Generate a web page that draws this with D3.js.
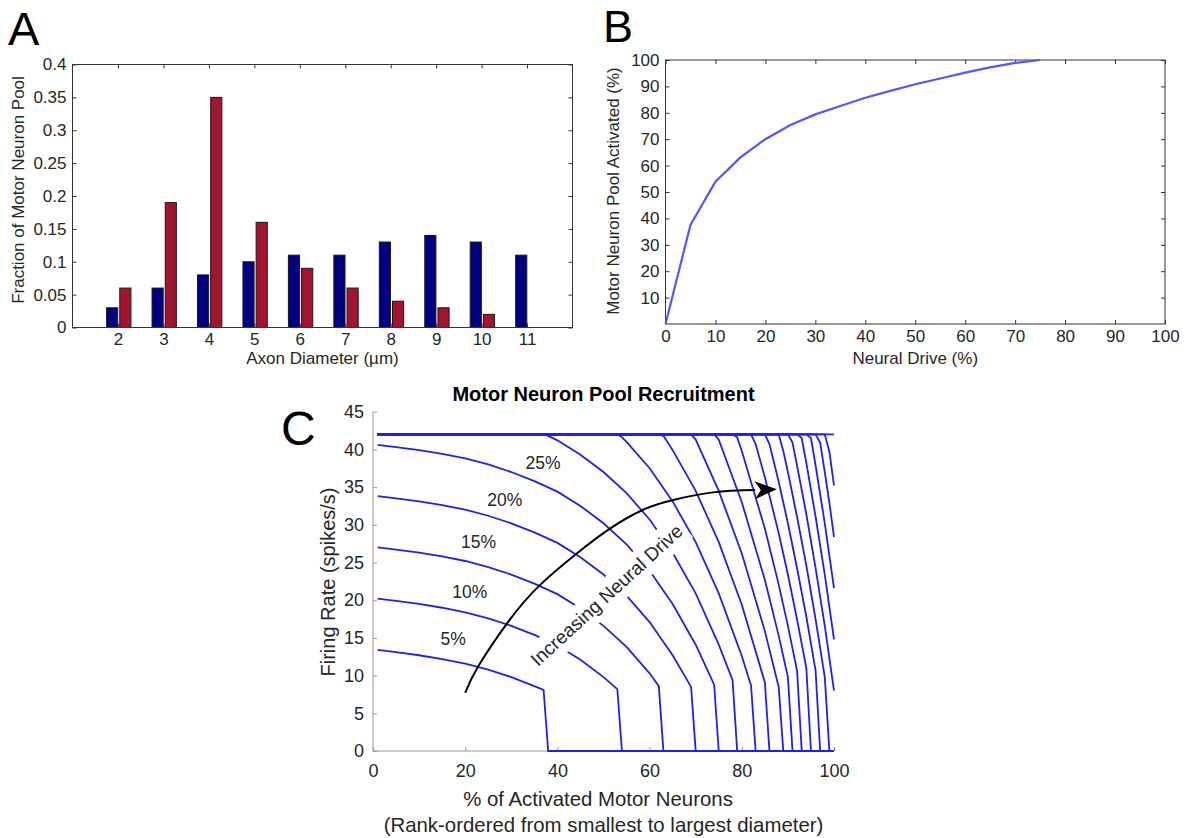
<!DOCTYPE html>
<html>
<head>
<meta charset="utf-8">
<script src="https://cdn.jsdelivr.net/npm/d3@7"></script>
<style>
  body { margin: 0; background: #fff; }
  svg text { font-family: "Liberation Sans", Arial, sans-serif; }
</style>
</head>
<body>
<script>
// ---- panel A data: axon diameter histogram
var diameters = [2, 3, 4, 5, 6, 7, 8, 9, 10, 11];
var fracBlue = [0.03, 0.06, 0.08, 0.10, 0.11, 0.11, 0.13, 0.14, 0.13, 0.11];
var fracRed = [0.06, 0.19, 0.35, 0.16, 0.09, 0.06, 0.04, 0.03, 0.02, 0];
var fracTicks = [0, 0.05, 0.1, 0.15, 0.2, 0.25, 0.3, 0.35, 0.4];

// ---- panel B data: pool activated vs neural drive
var neuralDrive = [0, 5, 10, 15, 20, 25, 30, 35, 40, 45, 50, 55, 60, 65, 70, 75];
var poolActivated = [0, 37.5, 53.9, 63.1, 70, 75.4, 79.4, 82.6, 85.7, 88.3, 90.8, 93, 95.2, 97.2, 98.9, 100];
var driveTicks = [0, 10, 20, 30, 40, 50, 60, 70, 80, 90, 100];
var poolTicks = [10, 20, 30, 40, 50, 60, 70, 80, 90, 100];

// ---- panel C data: firing rate vs rank for each drive level
var driveLevels = [5, 10, 15, 20, 25, 30, 35, 40, 45, 50, 55, 60, 65, 70, 75, 80, 85, 90, 95, 100];
var firingCurves = [
  [[1,13.4],[5,13.1],[10,12.7],[15,12.2],[20,11.6],[25,10.8],[30,9.8],[35,8.6],[37,8.1],[38,0],[100,0]],
  [[1,20.2],[5,19.9],[10,19.5],[15,19.0],[20,18.4],[25,17.6],[30,16.6],[35,15.4],[40,14.0],[45,12.1],[50,9.8],[53,8.2],[54,0],[100,0]],
  [[1,27.0],[5,26.7],[10,26.3],[15,25.8],[20,25.2],[25,24.4],[30,23.4],[35,22.2],[40,20.8],[45,18.9],[50,16.6],[55,13.8],[60,10.3],[62,8.6],[63,0],[100,0]],
  [[1,33.8],[5,33.5],[10,33.1],[15,32.6],[20,32.0],[25,31.2],[30,30.2],[35,29.0],[40,27.6],[45,25.7],[50,23.4],[55,20.6],[60,17.1],[65,12.7],[69,8.5],[70,0],[100,0]],
  [[1,40.6],[5,40.3],[10,39.9],[15,39.4],[20,38.8],[25,38.0],[30,37.0],[35,35.8],[40,34.4],[45,32.5],[50,30.2],[55,27.4],[60,23.9],[65,19.5],[70,14.1],[74,8.8],[75,0],[100,0]],
  [[1,42],[37,42],[38,41.8],[40,41.2],[45,39.3],[50,37.0],[55,34.2],[60,30.7],[65,26.3],[70,20.9],[75,14.1],[78,9.4],[79,0],[100,0]],
  [[1,42],[53,42],[54,41.6],[55,41.0],[60,37.5],[65,33.1],[70,27.7],[75,20.9],[80,12.6],[82,8.7],[83,0],[100,0]],
  [[1,42],[62,42],[63,41.8],[65,39.9],[70,34.5],[75,27.7],[80,19.4],[85,9.1],[86,0],[100,0]],
  [[1,42],[69,42],[70,41.3],[75,34.5],[80,26.2],[85,15.9],[88,8.5],[89,0],[100,0]],
  [[1,42],[74,42],[75,41.3],[80,33.0],[85,22.7],[88,15.3],[90,9.8],[91,0],[100,0]],
  [[1,42],[78,42],[79,41.6],[80,39.8],[85,29.5],[88,22.1],[90,16.6],[92,10.6],[93,0],[100,0]],
  [[1,42],[82,42],[83,40.7],[85,36.3],[88,28.9],[90,23.4],[92,17.4],[94,11.0],[95,0],[100,0]],
  [[1,42],[85,42],[86,40.7],[88,35.7],[90,30.2],[92,24.2],[94,17.8],[96,10.7],[97,0],[100,0]],
  [[1,42],[88,42],[89,39.8],[90,37.0],[92,31.0],[94,24.6],[96,17.5],[98,9.8],[99,0],[100,0]],
  [[1,42],[90,42],[91,40.9],[92,37.8],[94,31.4],[96,24.3],[98,16.6],[100,8.0]],
  [[1,42],[92,42],[93,41.5],[94,38.2],[96,31.1],[98,23.4],[100,14.8]],
  [[1,42],[94,42],[95,41.5],[96,37.9],[98,30.2],[100,21.6]],
  [[1,42],[96,42],[97,40.9],[98,37.0],[99,32.9],[100,28.4]],
  [[1,42],[98,42],[99,39.7],[100,35.2]],
  [[1,42],[100,42]]
];
var rankTicks = [0, 20, 40, 60, 80, 100];
var rateTicks = [0, 5, 10, 15, 20, 25, 30, 35, 40, 45];
// labelled curves (first five drive levels) and where the labels sit
var curveLabels = ["5%", "10%", "15%", "20%", "25%"];
var curveLabelPos = [[17.4, 14.9], [21.0, 21.1], [22.9, 27.8], [28.6, 33.3], [36.9, 38.2]];
// the "increasing neural drive" arrow
var arrowPts = [[20.0,7.7],[22.8,11.2],[29.4,17.2],[36.2,22.0],[44.2,26.2],[51.4,29.5],
  [58.6,32.0],[65.1,33.3],[73.8,34.3],[82.9,34.6]];
var arrowTip = [87.6, 34.7];

var svg = d3.select("body").append("svg")
    .attr("width", 1190)
    .attr("height", 838);

var tickColor = "#262626";

function styleAxis(g, size, color, lineColor) {
  g.select(".domain").remove();
  g.selectAll(".tick line").attr("stroke", lineColor);
  g.selectAll(".tick text").attr("font-size", size).attr("fill", color).attr("font-family", null);
}

// ================= Panel A =================
var xA = d3.scaleLinear().domain([1, 12]).range([72.5, 572.5]);
var yA = d3.scaleLinear().domain([0, 0.4]).range([327.5, 64.5]);
var gA = svg.append("g");

var bw = 0.245;
gA.selectAll("rect.blue")
    .data(diameters)
  .enter().append("rect")
    .attr("class", "blue")
    .attr("x", function(d) { return xA(d - 0.25); })
    .attr("width", xA(1 + bw) - xA(1))
    .attr("y", function(d, i) { return yA(fracBlue[i]); })
    .attr("height", function(d, i) { return yA(0) - yA(fracBlue[i]); })
    .attr("fill", "#000083")
    .attr("stroke", "#1a1a1a")
    .attr("stroke-width", 1);

gA.selectAll("rect.red")
    .data(diameters)
  .enter().append("rect")
    .attr("class", "red")
    .attr("x", function(d) { return xA(d + 0.04); })
    .attr("width", xA(1 + bw) - xA(1))
    .attr("y", function(d, i) { return yA(fracRed[i]); })
    .attr("height", function(d, i) { return yA(0) - yA(fracRed[i]); })
    .attr("fill", "#a3142f")
    .attr("stroke", "#1a1a1a")
    .attr("stroke-width", 1);

gA.append("g").attr("transform", "translate(0," + yA(0) + ")")
    .call(d3.axisBottom(xA).tickValues(diameters).tickSize(-4).tickPadding(5))
    .call(styleAxis, 17, tickColor, "#333");
gA.append("g").attr("transform", "translate(0," + yA(0.4) + ")")
    .call(d3.axisTop(xA).tickValues(diameters).tickSize(-4).tickFormat(""))
    .call(styleAxis, 17, tickColor, "#333");
gA.append("g").attr("transform", "translate(" + xA(1) + ",0)")
    .call(d3.axisLeft(yA).tickValues(fracTicks).tickSize(-4).tickPadding(6).tickFormat(d3.format("~g")))
    .call(styleAxis, 17, tickColor, "#333");
gA.append("g").attr("transform", "translate(" + xA(12) + ",0)")
    .call(d3.axisRight(yA).tickValues(fracTicks).tickSize(-4).tickFormat(""))
    .call(styleAxis, 17, tickColor, "#333");
gA.append("rect")
    .attr("x", xA(1)).attr("y", yA(0.4))
    .attr("width", xA(12) - xA(1)).attr("height", yA(0) - yA(0.4))
    .attr("fill", "none").attr("stroke", "#333").attr("stroke-width", 1);

gA.append("text").attr("x", xA(6.5)).attr("y", 364).attr("text-anchor", "middle")
    .attr("font-size", 17).attr("fill", tickColor).text("Axon Diameter (µm)");
gA.append("text").attr("transform", "translate(24,190) rotate(-90)").attr("text-anchor", "middle")
    .attr("font-size", 17).attr("fill", tickColor).text("Fraction of Motor Neuron Pool");
svg.append("text").attr("x", 8).attr("y", 45).attr("font-size", 47).text("A");

// ================= Panel B =================
var xB = d3.scaleLinear().domain([0, 100]).range([665.5, 1165]);
var yB = d3.scaleLinear().domain([0, 100]).range([324, 60]);
var gB = svg.append("g");

gB.append("g").attr("transform", "translate(0," + yB(0) + ")")
    .call(d3.axisBottom(xB).tickValues(driveTicks).tickSize(-4).tickPadding(6))
    .call(styleAxis, 17, tickColor, "#333");
gB.append("g").attr("transform", "translate(0," + yB(100) + ")")
    .call(d3.axisTop(xB).tickValues(driveTicks).tickSize(-4).tickFormat(""))
    .call(styleAxis, 17, tickColor, "#333");
gB.append("g").attr("transform", "translate(" + xB(0) + ",0)")
    .call(d3.axisLeft(yB).tickValues(poolTicks).tickSize(-4).tickPadding(6))
    .call(styleAxis, 17, tickColor, "#333");
gB.append("g").attr("transform", "translate(" + xB(100) + ",0)")
    .call(d3.axisRight(yB).tickValues(poolTicks).tickSize(-4).tickFormat(""))
    .call(styleAxis, 17, tickColor, "#333");
gB.append("rect")
    .attr("x", xB(0)).attr("y", yB(100))
    .attr("width", xB(100) - xB(0)).attr("height", yB(0) - yB(100))
    .attr("fill", "none").attr("stroke", "#333").attr("stroke-width", 1);

var lineB = d3.line()
    .x(function(d, i) { return xB(neuralDrive[i]); })
    .y(function(d) { return yB(d); });
gB.append("path").datum(poolActivated)
    .attr("d", lineB)
    .attr("fill", "none").attr("stroke", "#5555ff").attr("stroke-width", 2.2);

gB.append("text").attr("x", xB(50)).attr("y", 364).attr("text-anchor", "middle")
    .attr("font-size", 17).attr("fill", tickColor).text("Neural Drive (%)");
gB.append("text").attr("transform", "translate(619,191) rotate(-90)").attr("text-anchor", "middle")
    .attr("font-size", 17).attr("fill", tickColor).text("Motor Neuron Pool Activated (%)");
svg.append("text").attr("x", 603).attr("y", 42).attr("font-size", 45).text("B");

// ================= Panel C =================
var xC = d3.scaleLinear().domain([0, 100]).range([373, 834]);
var yC = d3.scaleLinear().domain([0, 45]).range([751, 411.7]);
var gC = svg.append("g");

gC.append("g").attr("transform", "translate(0," + yC(0) + ")")
    .call(d3.axisBottom(xC).tickValues(rankTicks).tickSize(-4).tickPadding(13))
    .call(styleAxis, 18, tickColor, "#999");
gC.append("g").attr("transform", "translate(" + xC(0) + ",0)")
    .call(d3.axisLeft(yC).tickValues(rateTicks).tickSize(-4).tickPadding(9))
    .call(styleAxis, 18, tickColor, "#999");
gC.append("line").attr("x1", xC(0)).attr("x2", xC(100)).attr("y1", yC(0)).attr("y2", yC(0))
    .attr("stroke", "#999").attr("stroke-width", 1);
gC.append("line").attr("x1", xC(0)).attr("x2", xC(0)).attr("y1", yC(0)).attr("y2", yC(45))
    .attr("stroke", "#999").attr("stroke-width", 1);

var lineC = d3.line()
    .x(function(d) { return xC(d[0]); })
    .y(function(d) { return yC(d[1]); });
gC.selectAll("path.rate")
    .data(firingCurves)
  .enter().append("path")
    .attr("class", "rate")
    .attr("d", lineC)
    .attr("fill", "none")
    .attr("stroke", "#2020ee")
    .attr("stroke-width", 1.8);

gC.selectAll("text.lev")
    .data(curveLabels)
  .enter().append("text")
    .attr("class", "lev")
    .attr("x", function(d, i) { return xC(curveLabelPos[i][0]); })
    .attr("y", function(d, i) { return yC(curveLabelPos[i][1]); })
    .attr("dy", "0.35em")
    .attr("text-anchor", "middle")
    .attr("font-size", 17.5)
    .attr("fill", tickColor)
    .text(function(d) { return d; });

// rotated note with white box that cuts the curves
var note = gC.append("g").attr("transform", "translate(611,600) rotate(-42.6)");
var noteText = note.append("text").attr("text-anchor", "middle")
    .attr("font-size", 19).attr("fill", tickColor).text("Increasing Neural Drive");
var bb = noteText.node().getBBox();
note.insert("rect", "text")
    .attr("x", bb.x - 4).attr("y", -21).attr("width", bb.width + 8).attr("height", 30)
    .attr("fill", "#fff");

// arrow
var arrowLine = d3.line()
    .x(function(d) { return xC(d[0]); })
    .y(function(d) { return yC(d[1]); })
    .curve(d3.curveNatural);
gC.append("path").datum(arrowPts)
    .attr("d", arrowLine)
    .attr("fill", "none").attr("stroke", "#000").attr("stroke-width", 2);
var last = arrowPts[arrowPts.length - 1];
var tx = xC(arrowTip[0]), ty = yC(arrowTip[1]);
var ang = Math.atan2(ty - yC(last[1]), tx - xC(last[0]));
var headL = 22, headW = 9, notch = 16;
function rot(dx, dy) {
  return [tx + dx * Math.cos(ang) - dy * Math.sin(ang), ty + dx * Math.sin(ang) + dy * Math.cos(ang)];
}
gC.append("path")
    .attr("d", "M" + [rot(0, 0), rot(-headL, -headW), rot(-notch, 0), rot(-headL, headW)].join("L") + "Z")
    .attr("fill", "#000");

gC.append("text").attr("x", xC(50)).attr("y", 401).attr("text-anchor", "middle")
    .attr("font-size", 20).attr("font-weight", "bold").attr("fill", "#000")
    .text("Motor Neuron Pool Recruitment");
gC.append("text").attr("x", 598).attr("y", 806).attr("text-anchor", "middle")
    .attr("font-size", 20.4).attr("fill", tickColor).text("% of Activated Motor Neurons");
gC.append("text").attr("x", xC(50)).attr("y", 832).attr("text-anchor", "middle")
    .attr("font-size", 20.4).attr("fill", tickColor).text("(Rank-ordered from smallest to largest diameter)");
gC.append("text").attr("transform", "translate(335,582) rotate(-90)").attr("text-anchor", "middle")
    .attr("font-size", 20).attr("fill", tickColor).text("Firing Rate (spikes/s)");
svg.append("text").attr("x", 281).attr("y", 445).attr("font-size", 48).text("C");
</script>
</body>
</html>
